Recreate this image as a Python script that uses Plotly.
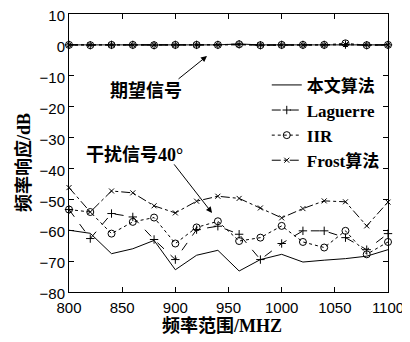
import plotly.graph_objects as go

freq = [800, 820, 840, 860, 880, 900, 920, 940, 960, 980, 1000, 1020, 1040, 1060, 1080, 1100]

# interference response (dB)
ours_int = [-60, -61, -67.6, -66, -63.3, -72.8, -68.1, -66.5, -73.2, -69.5, -67.8, -70.3, -69.7, -69.2, -68.4, -66.3]
lag_int = [-53.3, -62.7, -54.6, -55.7, -63, -69.5, -59.8, -58.7, -61.3, -69.5, -64.3, -60.2, -60.2, -62.4, -66.3, -61.1]
iir_int = [-53.3, -54.1, -61.1, -57.3, -55.9, -64.3, -59.1, -57.1, -63.5, -62.4, -58.6, -63.8, -65.6, -60.2, -67.8, -63.8]
frost_int = [-46.2, -54.1, -47.3, -47.9, -52.1, -54.4, -50.6, -49, -49.7, -52.8, -56, -53, -50.5, -50.8, -58.6, -50.9]

# desired signal response (dB)
ours_des = [0, 0, 0, 0, 0, 0, 0, 0, 0.3, 0, 0, 0, 0, 0, 0, 0]
lag_des = [0, -0.1, 0, 0, -0.1, 0, 0, 0, 0.2, -0.1, 0, 0, 0, 0.1, -0.1, 0]
iir_des = [0, -0.1, 0, 0, -0.1, 0, 0, 0, 0.2, -0.1, 0, 0, 0, 0.5, -0.1, 0]
frost_des = [0, 0, 0, 0, 0, 0, 0, 0, 0.1, 0, 0, 0, 0, 0.1, 0, 0]

names = ["本文算法", "Laguerre", "IIR", "Frost算法"]
x_ticks = [800, 850, 900, 950, 1000, 1050, 1100]
y_ticks = [10, 0, -10, -20, -30, -40, -50, -60, -70, -80]
x_title = "频率范围/MHZ"
y_title = "频率响应/dB"

styles = [
    dict(dash="solid", mode="lines", marker=dict()),
    dict(dash="dash", mode="lines+markers",
         marker=dict(symbol="cross-thin", size=6, line=dict(color="black", width=1))),
    dict(dash="dot", mode="lines+markers",
         marker=dict(symbol="circle-open", size=7, color="black", line=dict(color="black", width=1))),
    dict(dash="dashdot", mode="lines+markers",
         marker=dict(symbol="x-thin", size=5, line=dict(color="black", width=1))),
]

fig = go.Figure()
ints = [ours_int, lag_int, iir_int, frost_int]
dess = [ours_des, lag_des, iir_des, frost_des]
for i in range(4):
    st = styles[i]
    for data, show in ((ints[i], True), (dess[i], False)):
        fig.add_trace(go.Scatter(
            x=freq, y=data, name=names[i], mode=st["mode"], showlegend=show,
            line=dict(color="black", width=1, dash=st["dash"]),
            marker=st["marker"], cliponaxis=False,
        ))

serif = "Liberation Serif, Noto Sans CJK SC"
axis_common = dict(
    showline=True, linecolor="black", linewidth=1, mirror="ticks",
    ticks="inside", ticklen=5, tickcolor="black", showgrid=False, zeroline=False,
    automargin=False, ticklabeloverflow="allow",
)
fig.update_xaxes(range=[800, 1100], tickvals=x_ticks, ticklabelstandoff=2, **axis_common,
                 tickfont=dict(family="Liberation Sans, Arial", size=15, color="black"))
fig.update_yaxes(range=[-80, 10], tickvals=y_ticks, ticklabelshift=2, **axis_common,
                 tickfont=dict(family="Liberation Sans, Arial", size=15, color="black"))

title_font = dict(family=serif, size=18, color="black", weight="bold")
fig.add_annotation(x=0.48, y=-0.122, xref="paper", yref="paper", text=x_title,
                   showarrow=False, font=title_font, xanchor="center", yanchor="middle")
fig.add_annotation(x=-0.144, y=0.464, xref="paper", yref="paper", text=y_title, textangle=-90,
                   showarrow=False, font=title_font, xanchor="center", yanchor="middle")

ann_font = dict(family=serif, size=18, color="black", weight="bold")
fig.add_annotation(x=929.8, y=-3.6, ax=901.6, ay=-11.4, xref="x", yref="y", axref="x", ayref="y",
                   showarrow=True, arrowhead=2, arrowsize=1.2, arrowwidth=1, arrowcolor="black", text="")
fig.add_annotation(x=872, y=-15, xref="x", yref="y", text="期望信号", showarrow=False, font=ann_font)
fig.add_annotation(x=934.5, y=-54.4, ax=897.8, ay=-38.2, xref="x", yref="y", axref="x", ayref="y",
                   showarrow=True, arrowhead=2, arrowsize=1.2, arrowwidth=1, arrowcolor="black", text="")
fig.add_annotation(x=862, y=-35.5, xref="x", yref="y", text="干扰信号40°", showarrow=False, font=ann_font)

# page body adds an 8px margin; figure is sized/offset to compensate
fig.update_layout(
    width=402, height=326,
    margin=dict(l=61, r=22, t=6, b=42),
    paper_bgcolor="white", plot_bgcolor="white",
    showlegend=True,
    legend=dict(x=0.62, y=0.808, xanchor="left", yanchor="top", bgcolor="rgba(0,0,0,0)",
                font=dict(family=serif, size=17, color="black", weight="bold"),
                itemwidth=30, tracegroupgap=0),
)

fig.write_html("out.html")
